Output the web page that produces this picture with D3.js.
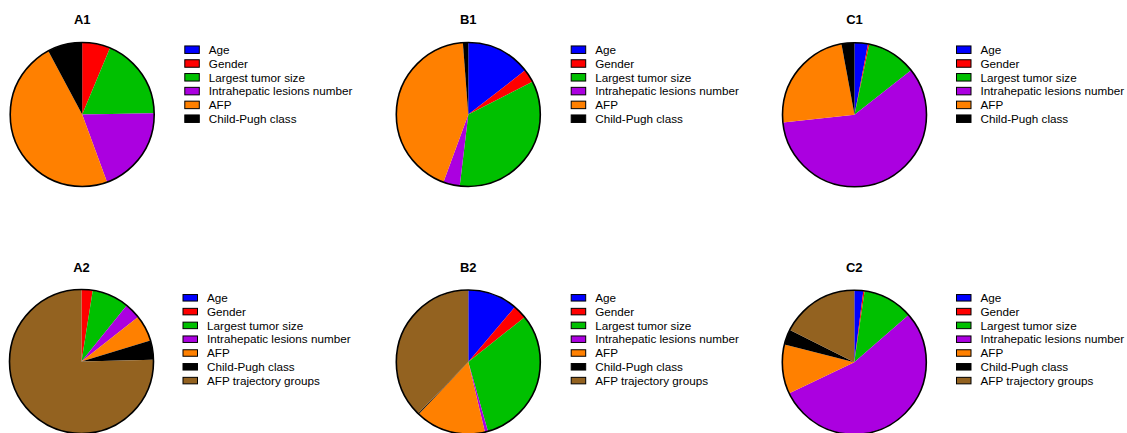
<!DOCTYPE html>
<html>
<head>
<meta charset="utf-8">
<script src="https://cdn.jsdelivr.net/npm/d3@7"></script>
<style>
  html, body { margin: 0; padding: 0; background: #fff; }
  svg { display: block; }
  text { font-family: "Liberation Sans", Arial, sans-serif; }
</style>
</head>
<body>
<svg id="chart" width="1127" height="433"></svg>
<script>
// Variable contributions (%) per model panel
const categories1 = ["Age", "Gender", "Largest tumor size", "Intrahepatic lesions number", "AFP", "Child-Pugh class"];
const categories2 = ["Age", "Gender", "Largest tumor size", "Intrahepatic lesions number", "AFP", "Child-Pugh class", "AFP trajectory groups"];
const panelTitles = ["A1", "B1", "C1", "A2", "B2", "C2"];
const valuesA1 = [0, 6.3, 18.4, 19.7, 47.8, 7.8];
const valuesB1 = [14.5, 3.0, 34.4, 3.7, 43.2, 1.2];
const valuesC1 = [3.0, 0.3, 11.1, 58.9, 23.8, 2.9];
const valuesA2 = [0, 2.5, 8.3, 3.6, 5.9, 4.3, 75.4];
const valuesB2 = [11.2, 3.1, 31.3, 0.7, 15.8, 0.2, 37.7];
const valuesC2 = [2.0, 0.3, 11.3, 54.3, 11.1, 3.4, 17.6];
const sliceColors = ["#0000ff", "#ff0000", "#00c000", "#ab00e0", "#ff8000", "#000000", "#936220"];

const panels = [
  { title: panelTitles[0], cats: categories1, vals: valuesA1, cx: 82.2,  cy: 114.5, titleY: 24,    lx: 184.3, ly: 49.7,  sh: 7.5 },
  { title: panelTitles[1], cats: categories1, vals: valuesB1, cx: 468.3, cy: 114.5, titleY: 24,    lx: 570.7, ly: 49.7,  sh: 7.5 },
  { title: panelTitles[2], cats: categories1, vals: valuesC1, cx: 854.5, cy: 114.8, titleY: 24,    lx: 956,   ly: 49.7,  sh: 7.5 },
  { title: panelTitles[3], cats: categories2, vals: valuesA2, cx: 81.5,  cy: 361.5, titleY: 271.5, lx: 182.5, ly: 297.8, sh: 6.5 },
  { title: panelTitles[4], cats: categories2, vals: valuesB2, cx: 468.3, cy: 362,   titleY: 271.5, lx: 570.7, ly: 297.8, sh: 6.5 },
  { title: panelTitles[5], cats: categories2, vals: valuesC2, cx: 854.3, cy: 362.3, titleY: 271.5, lx: 956,   ly: 297.8, sh: 6.5 }
];

const radius = 72;
const rowStep = 13.8;
const svg = d3.select("#chart");
const pie = d3.pie().sort(null).value(d => d).startAngle(0).endAngle(2 * Math.PI);
const arc = d3.arc().innerRadius(0).outerRadius(radius);
const color = d3.scaleOrdinal().domain(categories2).range(sliceColors);

panels.forEach(p => {
  const g = svg.append("g");

  // panel title
  g.append("text")
    .attr("x", p.cx)
    .attr("y", p.titleY)
    .attr("text-anchor", "middle")
    .attr("font-size", 13)
    .attr("font-weight", "bold")
    .text(p.title);

  // slices
  const pg = g.append("g").attr("transform", `translate(${p.cx},${p.cy})`);
  pg.selectAll("path")
    .data(pie(p.vals))
    .join("path")
    .attr("d", arc)
    .attr("fill", (d, i) => color(p.cats[i]));

  // outline
  pg.append("circle")
    .attr("r", radius)
    .attr("fill", "none")
    .attr("stroke", "#000")
    .attr("stroke-width", 1.6);

  // legend
  const lg = g.append("g");
  const rows = lg.selectAll("g")
    .data(p.cats)
    .join("g")
    .attr("transform", (d, i) => `translate(${p.lx},${p.ly + i * rowStep})`);
  rows.append("rect")
    .attr("x", 0.5)
    .attr("y", -p.sh / 2)
    .attr("width", 14.5)
    .attr("height", p.sh)
    .attr("fill", d => color(d))
    .attr("stroke", "#000")
    .attr("stroke-width", 1);
  rows.append("text")
    .attr("x", 24.5)
    .attr("y", 4.2)
    .attr("font-size", 11.7)
    .attr("fill", "#000")
    .text(d => d);
});
</script>
</body>
</html>
